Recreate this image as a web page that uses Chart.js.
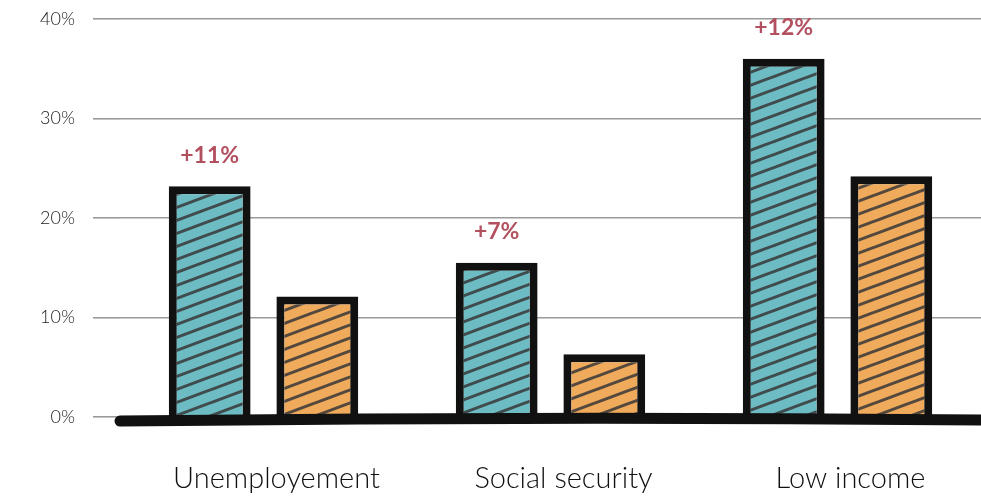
<!DOCTYPE html>
<html>
<head>
<meta charset="utf-8">
<script src="https://cdn.jsdelivr.net/npm/chart.js@4"></script>
<style>
  html, body { margin: 0; padding: 0; background: #fff; }
  #wrap { width: 981px; height: 503px; }
</style>
</head>
<body>
<div id="wrap"><canvas id="chart" width="981" height="503"></canvas></div>
<script>
// Data
const categories = ["Unemployement", "Social security", "Low income"];
const seriesA = [23.2, 15.5, 36];   // teal bars
const seriesB = [12.1, 6.3, 24.2];  // orange bars
const diffLabels = ["+11%", "+7%", "+12%"];
const yTicks = [0, 10, 20, 30, 40];

const teal = "#6dbcc4";
const orange = "#f0aa5c";
const hatchColor = "rgba(55, 55, 55, 0.85)";
const labelRed = "#b3505f";
const fontFamily = "Lato, 'DejaVu Sans', sans-serif";

// Diagonal hatch pattern over a flat colour
function hatch(color) {
  const w = 35, h = 13;
  const c = document.createElement("canvas");
  c.width = w;
  c.height = h;
  const g = c.getContext("2d");
  g.fillStyle = color;
  g.fillRect(0, 0, w, h);
  g.strokeStyle = hatchColor;
  g.lineWidth = 3;
  [-h, 0, h].forEach((dy) => {
    g.beginPath();
    g.moveTo(-2, h + dy + 2 * h / w);
    g.lineTo(w + 2, dy - 2 * h / w);
    g.stroke();
  });
  return g.createPattern(c, "repeat");
}

// Thick black baseline at zero + labels above the teal bars
const sketchPlugin = {
  id: "sketch",
  afterDatasetsDraw(chart) {
    const ctx = chart.ctx;
    const y0 = chart.scales.y.getPixelForValue(0);
    const { left, right } = chart.chartArea;
    ctx.save();
    ctx.strokeStyle = "#111";
    ctx.lineWidth = 11;
    ctx.lineCap = "round";
    ctx.beginPath();
    ctx.moveTo(left, y0 + 4);
    ctx.quadraticCurveTo((left + right) / 2, y0 - 1, right, y0 + 3);
    ctx.stroke();

    const meta = chart.getDatasetMeta(0);
    ctx.fillStyle = labelRed;
    ctx.font = "bold 23px " + fontFamily;
    ctx.textAlign = "center";
    ctx.textBaseline = "middle";
    meta.data.forEach((bar, i) => {
      ctx.fillText(diffLabels[i], bar.x, bar.y - 31);
    });
    ctx.restore();
  },
};

new Chart(document.getElementById("chart"), {
  type: "bar",
  data: {
    labels: categories,
    datasets: [
      {
        data: seriesA,
        backgroundColor: hatch(teal),
        borderColor: "#111",
        borderWidth: 8,
        borderSkipped: "bottom",
      },
      {
        data: seriesB,
        backgroundColor: hatch(orange),
        borderColor: "#111",
        borderWidth: 8,
        borderSkipped: "bottom",
      },
    ],
  },
  options: {
    responsive: false,
    animation: false,
    barPercentage: 0.76,
    categoryPercentage: 0.75,
    layout: { padding: 0 },
    plugins: {
      legend: { display: false },
      tooltip: { enabled: false },
    },
    scales: {
      x: {
        afterFit: (scale) => {
          scale.height = 86;
        },
        grid: { display: false },
        border: { display: false },
        ticks: {
          color: "#111",
          padding: 36,
          labelOffset: 13,
          maxRotation: 0,
          font: { family: fontFamily, size: 29, weight: 300 },
        },
      },
      y: {
        min: 0,
        max: 40,
        afterFit: (scale) => {
          scale.width = 120;
          scale.paddingTop = 19;
        },
        afterBuildTicks: (scale) => {
          scale.ticks = yTicks.map((v) => ({ value: v }));
        },
        border: { display: false },
        grid: { color: "#9a9a9a", lineWidth: 1.6, tickLength: 27 },
        ticks: {
          color: "#222",
          padding: 18,
          font: { family: fontFamily, size: 18, weight: 300 },
          callback: (v) => v + "%",
        },
      },
    },
  },
  plugins: [sketchPlugin],
});
</script>
</body>
</html>
